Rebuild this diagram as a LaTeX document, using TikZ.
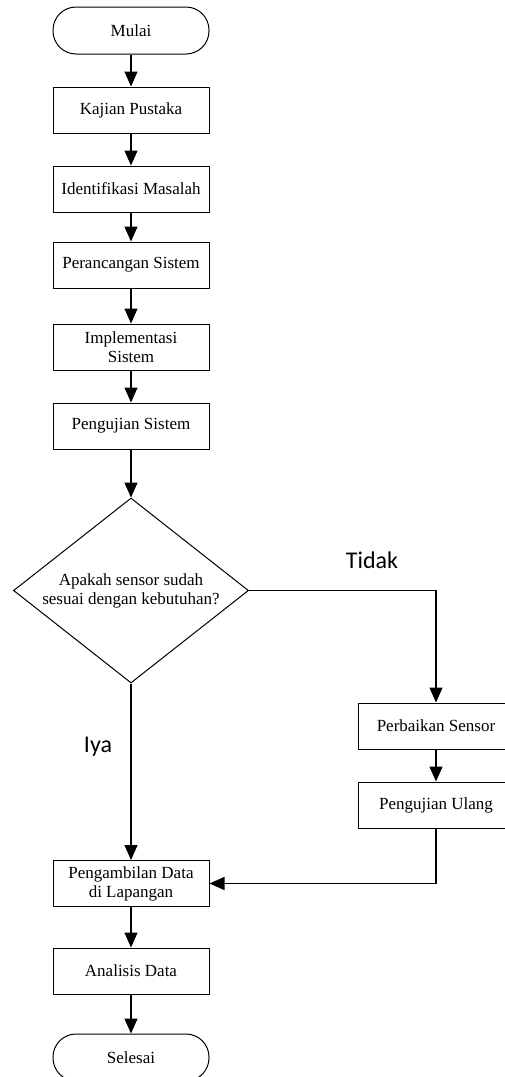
\documentclass[tikz,border=0pt]{standalone}
\usepackage{fontspec}
\setmainfont{Liberation Serif}
\newfontfamily\labelfont{Carlito}
\usetikzlibrary{shapes.geometric,arrows.meta}

\tikzset{
  proses/.style={draw, line width=1pt, minimum width=156pt, minimum height=46pt, inner sep=1pt, align=center, font=\fontsize{17}{19}\selectfont},
  terminal/.style={proses, rounded corners=23pt, minimum height=47pt},
  keputusan/.style={draw, diamond, line width=1pt, aspect=1.27, inner sep=0pt, minimum width=235pt, minimum height=185pt, align=center, font=\fontsize{17}{19}\selectfont},
  panah/.style={line width=1.2pt, -{Triangle[width=13pt,length=15pt]}},
  ket/.style={font=\labelfont\fontsize{24}{28}\selectfont}
}

\begin{document}
\begin{tikzpicture}[x=1pt,y=1pt,yscale=-1,xscale=1]
\useasboundingbox (0,0) rectangle (504,1077);

%Flowchart: Terminator
\node [terminal] (mulai) at (131,30.5) {Mulai};
%Flowchart: Process
\node [proses] (kajian) at (131,110) {Kajian Pustaka};
\node [proses] (identifikasi) at (131,189) {Identifikasi Masalah};
\node [proses] (perancangan) at (131,265) {Perancangan Sistem};
\node [proses] (implementasi) at (131,347) {Implementasi\\Sistem};
\node [proses] (pengujian) at (131,426) {Pengujian Sistem};
%Flowchart: Decision
\node [keputusan] (sesuai) at (131,590.5) {Apakah sensor sudah\\sesuai dengan kebutuhan?};
%Flowchart: Process
\node [proses] (perbaikan) at (436,726) {Perbaikan Sensor};
\node [proses] (ulang) at (436,805) {Pengujian Ulang};
\node [proses] (pengambilan) at (131,883.5) {Pengambilan Data\\di Lapangan};
\node [proses] (analisis) at (131,971) {Analisis Data};
%Flowchart: Terminator
\node [terminal] (selesai) at (131,1057.5) {Selesai};

%Straight Lines
\draw [panah] (mulai) -- (kajian);
\draw [panah] (kajian) -- (identifikasi);
\draw [panah] (identifikasi) -- (perancangan);
\draw [panah] (perancangan) -- (implementasi);
\draw [panah] (implementasi) -- (pengujian);
\draw [panah] (pengujian) -- (sesuai);
\draw [panah] (sesuai.east) -| (perbaikan.north);
\draw [panah] (perbaikan) -- (ulang);
\draw [panah] (ulang.south) |- (pengambilan.east);
\draw [panah] (sesuai.south) -- (pengambilan.north);
\draw [panah] (pengambilan) -- (analisis);
\draw [panah] (analisis) -- (selesai);

% Text Node
\node [ket] (tidak) at (372,560) {Tidak};
% Text Node
\node [ket] (iya) at (98,747) {Iya};
\end{tikzpicture}
\end{document}
